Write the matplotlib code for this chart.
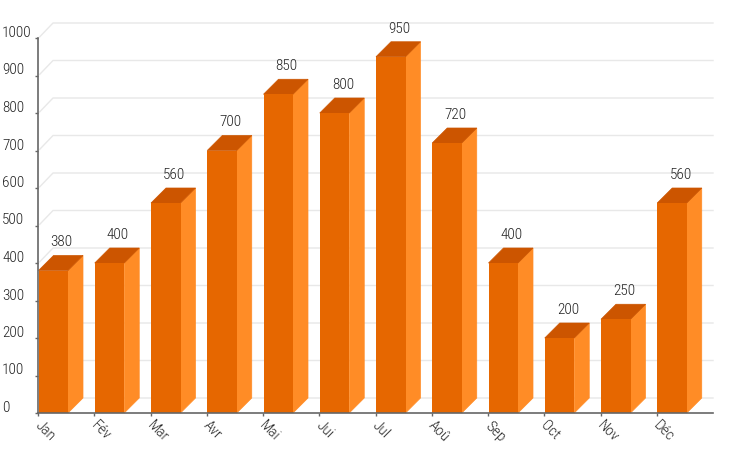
import matplotlib
matplotlib.use("Agg")
from matplotlib import pyplot as plt
from matplotlib.transforms import ScaledTranslation

months = ["Jan", "Fév", "Mar", "Avr", "Mai", "Jui", "Jul", "Aoû", "Sep", "Oct", "Nov", "Déc"]
values = [380, 400, 560, 700, 850, 800, 950, 720, 400, 200, 250, 560]
y_ticks = [0, 100, 200, 300, 400, 500, 600, 700, 800, 900, 1000]

plt.rcParams["font.family"] = ["Roboto Condensed", "Roboto", "DejaVu Sans"]
plt.rcParams["font.weight"] = "light"

FRONT = "#e66700"
SIDE = "#ff8c26"
TOP = "#cc5500"
GRID = "#e8e8e8"
AXIS = "#666666"
TEXT = "#222222"
PX = 0.72  # one pixel in points at dpi 100

fig = plt.figure(figsize=(7.5, 4.5), dpi=100)
# plot area in pixels: x 38-713, y 38-413
ax = fig.add_axes([38 / 750, 37 / 450, 675 / 750, 375 / 450])
ax.set_xlim(0, 12)
ax.set_ylim(0, 1000)

# 3d depth, 15px right and up
dx = 15 / 56.25
dy = 15 / 0.375
wid = 29.5 / 56.25
off = 0.5 / 56.25

# back wall grid lines
for v in y_ticks:
    ax.plot([0.03, dx, 12], [v + 3, v + dy, v + dy], color=GRID, lw=1, zorder=1, clip_on=False)

x = [i + off for i in range(len(values))]
ax.bar(x, values, width=wid, align="edge", color=FRONT, zorder=3, clip_on=False)
for xi, v in zip(x, values):
    r = xi + wid
    ax.fill([r, r + dx, r + dx, r], [0, dy, v + dy, v], color=SIDE, lw=0.5, zorder=2, clip_on=False)
    ax.fill([xi, xi + dx, r + dx, r], [v, v + dy, v + dy, v], color=TOP, lw=0.5, zorder=2, clip_on=False)
    ax.annotate(str(v), (xi + wid / 2 + dx / 2, v + dy), xytext=(1 * PX, 9 * PX), textcoords="offset points",
                ha="center", va="baseline", fontsize=11, color=TEXT, zorder=5, annotation_clip=False)

for s in ["top", "right"]:
    ax.spines[s].set_visible(False)
for s in ["left", "bottom"]:
    ax.spines[s].set_color(AXIS)
    ax.spines[s].set_linewidth(1.2)
    ax.spines[s].set_zorder(4)

ax.set_yticks(y_ticks)
ax.set_yticklabels([])
ax.tick_params(axis="y", length=2.5, width=1, color=AXIS, direction="out")
for v in y_ticks:
    # labels sit left aligned at the image edge, baseline just above the tick
    ax.annotate(str(v), (0, v), xycoords=("axes fraction", "data"), xytext=(-36 * PX, 1 * PX),
                textcoords="offset points", ha="left", va="baseline", fontsize=11, color=TEXT,
                annotation_clip=False)

ax.set_xticks(range(len(months)))
ax.set_xticklabels(months, rotation=-45, ha="left", va="top", rotation_mode="anchor", fontsize=11, color=TEXT)
ax.tick_params(axis="x", length=2.5, width=1, color=AXIS, direction="out", pad=3)
shift = ScaledTranslation(4 / 100, 2 / 100, fig.dpi_scale_trans)
for lab in ax.get_xticklabels():
    lab.set_transform(lab.get_transform() + shift)

fig.savefig("out.png", dpi=100, facecolor="white")
